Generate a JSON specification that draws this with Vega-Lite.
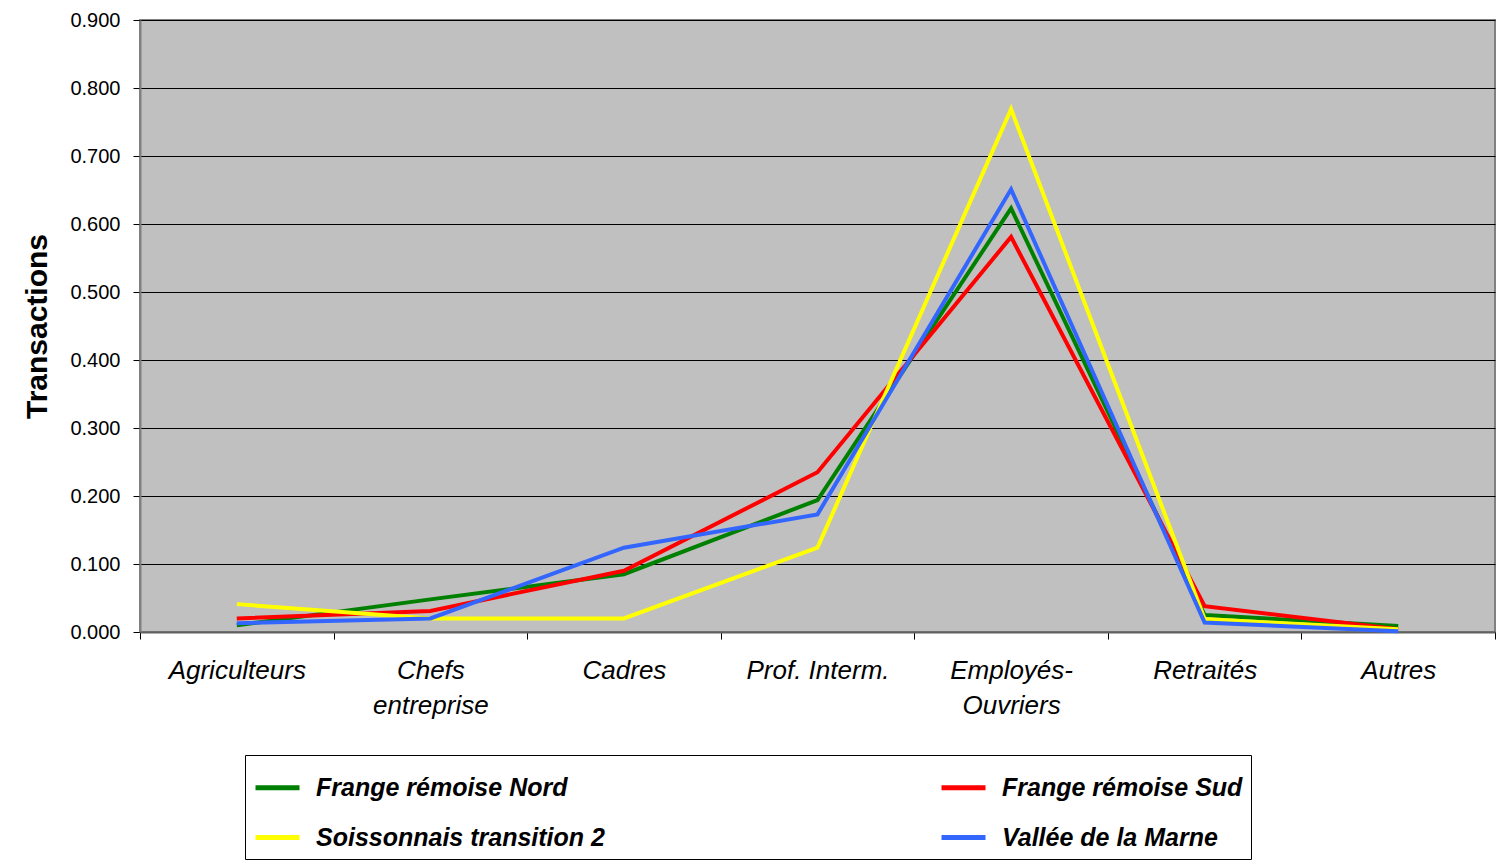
{
  "$schema": "https://vega.github.io/schema/vega-lite/v6.json",
  "autosize": "none",
  "width": 1355,
  "height": 612,
  "padding": {"left": 140, "top": 20, "right": 10, "bottom": 234},
  "background": "white",
  "config": {
    "font": "Liberation Sans",
    "view": {"fill": "#C0C0C0", "stroke": "#808080", "strokeWidth": 2}
  },
  "data": {
    "values": [
      {"cat": "Agriculteurs", "serie": "Frange rémoise Nord", "v": 0.010},
      {"cat": "Chefs entreprise", "serie": "Frange rémoise Nord", "v": 0.048},
      {"cat": "Cadres", "serie": "Frange rémoise Nord", "v": 0.085},
      {"cat": "Prof. Interm.", "serie": "Frange rémoise Nord", "v": 0.194},
      {"cat": "Employés-Ouvriers", "serie": "Frange rémoise Nord", "v": 0.623},
      {"cat": "Retraités", "serie": "Frange rémoise Nord", "v": 0.025},
      {"cat": "Autres", "serie": "Frange rémoise Nord", "v": 0.009},
      {"cat": "Agriculteurs", "serie": "Frange rémoise Sud", "v": 0.020},
      {"cat": "Chefs entreprise", "serie": "Frange rémoise Sud", "v": 0.031},
      {"cat": "Cadres", "serie": "Frange rémoise Sud", "v": 0.090},
      {"cat": "Prof. Interm.", "serie": "Frange rémoise Sud", "v": 0.235},
      {"cat": "Employés-Ouvriers", "serie": "Frange rémoise Sud", "v": 0.581},
      {"cat": "Retraités", "serie": "Frange rémoise Sud", "v": 0.038},
      {"cat": "Autres", "serie": "Frange rémoise Sud", "v": 0.004},
      {"cat": "Agriculteurs", "serie": "Soissonnais transition 2", "v": 0.041},
      {"cat": "Chefs entreprise", "serie": "Soissonnais transition 2", "v": 0.020},
      {"cat": "Cadres", "serie": "Soissonnais transition 2", "v": 0.020},
      {"cat": "Prof. Interm.", "serie": "Soissonnais transition 2", "v": 0.124},
      {"cat": "Employés-Ouvriers", "serie": "Soissonnais transition 2", "v": 0.769},
      {"cat": "Retraités", "serie": "Soissonnais transition 2", "v": 0.019},
      {"cat": "Autres", "serie": "Soissonnais transition 2", "v": 0.004},
      {"cat": "Agriculteurs", "serie": "Vallée de la Marne", "v": 0.013},
      {"cat": "Chefs entreprise", "serie": "Vallée de la Marne", "v": 0.020},
      {"cat": "Cadres", "serie": "Vallée de la Marne", "v": 0.124},
      {"cat": "Prof. Interm.", "serie": "Vallée de la Marne", "v": 0.173},
      {"cat": "Employés-Ouvriers", "serie": "Vallée de la Marne", "v": 0.651},
      {"cat": "Retraités", "serie": "Vallée de la Marne", "v": 0.014},
      {"cat": "Autres", "serie": "Vallée de la Marne", "v": 0.001}
    ]
  },
  "mark": {"type": "line", "strokeWidth": 4},
  "encoding": {
    "x": {
      "field": "cat",
      "type": "nominal",
      "sort": ["Agriculteurs", "Chefs entreprise", "Cadres", "Prof. Interm.", "Employés-Ouvriers", "Retraités", "Autres"],
      "scale": {"type": "band", "paddingInner": 0, "paddingOuter": 0},
      "axis": {
        "title": null,
        "labelAngle": 0,
        "tickBand": "extent",
        "grid": false,
        "domainColor": "#606060",
        "domainWidth": 2,
        "tickColor": "#000000",
        "tickSize": 7,
        "labelPadding": 18,
        "labelFont": "Liberation Sans",
        "labelFontSize": 26,
        "labelFontStyle": "italic",
        "labelColor": "#000000",
        "labelLineHeight": 35,
        "labelBaseline": "top",
        "labelExpr": "datum.value == 'Chefs entreprise' ? ['Chefs', 'entreprise'] : datum.value == 'Employés-Ouvriers' ? ['Employés-', 'Ouvriers'] : datum.value"
      }
    },
    "y": {
      "field": "v",
      "type": "quantitative",
      "scale": {"domain": [0, 0.9], "nice": false},
      "axis": {
        "title": "Transactions",
        "titleFont": "Liberation Sans",
        "titleFontSize": 30,
        "titleFontWeight": "bold",
        "titleColor": "#000000",
        "titlePadding": 17,
        "values": [0, 0.1, 0.2, 0.3, 0.4, 0.5, 0.6, 0.7, 0.8, 0.9],
        "format": ".3f",
        "grid": true,
        "gridColor": "#000000",
        "gridWidth": 1,
        "domainColor": "#808080",
        "domainWidth": 2,
        "tickColor": "#000000",
        "tickSize": 7,
        "labelPadding": 13,
        "labelFont": "Liberation Sans",
        "labelFontSize": 20,
        "labelColor": "#000000"
      }
    },
    "color": {
      "field": "serie",
      "type": "nominal",
      "sort": ["Frange rémoise Nord", "Frange rémoise Sud", "Soissonnais transition 2", "Vallée de la Marne"],
      "scale": {
        "domain": ["Frange rémoise Nord", "Frange rémoise Sud", "Soissonnais transition 2", "Vallée de la Marne"],
        "range": ["#008000", "#FF0000", "#FFFF00", "#3366FF"]
      },
      "legend": {
        "title": null,
        "orient": "none",
        "direction": "horizontal",
        "legendX": 105,
        "legendY": 735,
        "columns": 2,
        "columnPadding": 326,
        "rowPadding": 12,
        "padding": 8,
        "strokeColor": "#000000",
        "fillColor": "#FFFFFF",
        "symbolType": "stroke",
        "symbolSize": 1936,
        "symbolStrokeWidth": 5,
        "labelOffset": 14,
        "labelFont": "Liberation Sans",
        "labelFontSize": 25,
        "labelFontStyle": "italic",
        "labelFontWeight": "bold",
        "labelColor": "#000000",
        "labelLimit": 500
      }
    }
  }
}
